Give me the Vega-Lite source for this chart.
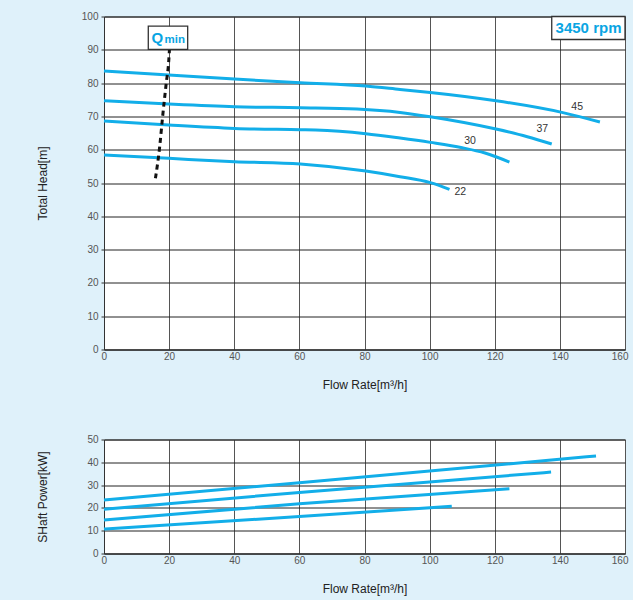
{
  "$schema": "https://vega.github.io/schema/vega-lite/v6.json",
  "background": "#dff1fa",
  "padding": {"left": 36, "top": 10.5, "right": 12, "bottom": 14},
  "spacing": 90,
  "bounds": "flush",
  "config": {
    "view": {"stroke": "#444", "strokeWidth": 1, "fill": "white"},
    "font": "Liberation Sans",
    "axis": {
      "labelFont": "Liberation Sans", "labelFontSize": 10, "labelColor": "#555",
      "titleFont": "Liberation Sans", "titleFontSize": 12, "titleFontWeight": "normal", "titleColor": "#222",
      "gridOpacity": 1, "gridWidth": 1, "domainColor": "#333", "tickColor": "#333"
    },
    "axisX": {"gridColor": "#555", "tickSize": 0, "labelPadding": 2, "titleY": 34.5, "titleBaseline": "middle", "labelFlush": true, "labelFlushOffset": 3},
    "axisY": {"gridColor": "#222", "tickSize": 3, "labelPadding": 3, "titleX": -61.5, "titleBaseline": "middle", "labelFlush": false}
  },
  "datasets": {
    "head": [
      {"curve": "45", "x": 0, "y": 83.6}, {"curve": "45", "x": 19.9, "y": 82.4}, {"curve": "45", "x": 40.1, "y": 81.2}, {"curve": "45", "x": 60.3, "y": 80.1}, {"curve": "45", "x": 80.4, "y": 79.1}, {"curve": "45", "x": 90.9, "y": 78.1}, {"curve": "45", "x": 100.2, "y": 77.2}, {"curve": "45", "x": 120.4, "y": 74.7}, {"curve": "45", "x": 140.6, "y": 71.2}, {"curve": "45", "x": 152.3, "y": 68.3},
      {"curve": "37", "x": 0, "y": 74.7}, {"curve": "37", "x": 19.9, "y": 73.7}, {"curve": "37", "x": 40.1, "y": 72.9}, {"curve": "37", "x": 60.3, "y": 72.6}, {"curve": "37", "x": 77.7, "y": 72.2}, {"curve": "37", "x": 90.9, "y": 71.2}, {"curve": "37", "x": 100.2, "y": 69.9}, {"curve": "37", "x": 120.4, "y": 66.2}, {"curve": "37", "x": 130, "y": 63.9}, {"curve": "37", "x": 137.5, "y": 61.7},
      {"curve": "30", "x": 0, "y": 68.6}, {"curve": "30", "x": 19.9, "y": 67.4}, {"curve": "30", "x": 40.1, "y": 66.4}, {"curve": "30", "x": 60.3, "y": 66.0}, {"curve": "30", "x": 65, "y": 65.9}, {"curve": "30", "x": 80.4, "y": 64.8}, {"curve": "30", "x": 90.9, "y": 63.5}, {"curve": "30", "x": 100.2, "y": 62.2}, {"curve": "30", "x": 110, "y": 60.6}, {"curve": "30", "x": 117, "y": 59.0}, {"curve": "30", "x": 124.5, "y": 56.3},
      {"curve": "22", "x": 0, "y": 58.4}, {"curve": "22", "x": 19.9, "y": 57.4}, {"curve": "22", "x": 40.1, "y": 56.4}, {"curve": "22", "x": 60.3, "y": 55.7}, {"curve": "22", "x": 80.4, "y": 53.6}, {"curve": "22", "x": 90.9, "y": 51.9}, {"curve": "22", "x": 100.2, "y": 50.1}, {"curve": "22", "x": 106.1, "y": 48.1}
    ],
    "labels": [
      {"label": "45", "x": 145.3, "y": 72.9},
      {"label": "37", "x": 134.6, "y": 66.1},
      {"label": "30", "x": 112.4, "y": 62.6},
      {"label": "22", "x": 109.4, "y": 47.2}
    ],
    "qmin": [
      {"x": 20.1, "y": 90.1}, {"x": 19.9, "y": 86.9}, {"x": 19.1, "y": 79.9}, {"x": 18.0, "y": 69.9}, {"x": 17.1, "y": 60.9}, {"x": 15.8, "y": 51.4}
    ],
    "qbox": [{"x": 13.6, "x2": 25.7, "y": 90.1, "y2": 97.1}],
    "qtext": [{"t": "Q", "x": 14.6, "y": 92.1, "s": "big"}, {"t": "min", "x": 18.6, "y": 92.1, "s": "small"}],
    "rpmbox": [{"x": 137.5, "x2": 160, "y": 93.1, "y2": 100, "t": "3450 rpm", "tx": 148.8, "ty": 95.0}],
    "power": [
      {"curve": "45", "x": 0, "y": 23.5}, {"curve": "45", "x": 60, "y": 31.0}, {"curve": "45", "x": 151.1, "y": 42.8},
      {"curve": "37", "x": 0, "y": 19.4}, {"curve": "37", "x": 60, "y": 26.8}, {"curve": "37", "x": 137.3, "y": 35.7},
      {"curve": "30", "x": 0, "y": 14.7}, {"curve": "30", "x": 60, "y": 21.8}, {"curve": "30", "x": 124.5, "y": 28.4},
      {"curve": "22", "x": 0, "y": 10.7}, {"curve": "22", "x": 60, "y": 16.2}, {"curve": "22", "x": 106.8, "y": 20.7}
    ]
  },
  "vconcat": [
    {
      "width": 521,
      "height": 333,
      "encoding": {
        "x": {"field": "x", "type": "quantitative", "scale": {"domain": [0, 160], "nice": false, "zero": false},
              "axis": {"title": "Flow Rate[m³/h]", "values": [0, 20, 40, 60, 80, 100, 120, 140, 160]}},
        "y": {"field": "y", "type": "quantitative", "scale": {"domain": [0, 100], "nice": false, "zero": false},
              "axis": {"title": "Total Head[m]", "values": [0, 10, 20, 30, 40, 50, 60, 70, 80, 90, 100]}}
      },
      "layer": [
        {
          "data": {"name": "head"},
          "mark": {"type": "line", "interpolate": "monotone", "color": "#12aee9", "strokeWidth": 3, "clip": false},
          "encoding": {"detail": {"field": "curve", "type": "nominal"}}
        },
        {
          "data": {"name": "labels"},
          "mark": {"type": "text", "fontSize": 10.5, "color": "#333", "font": "Liberation Sans"},
          "encoding": {"text": {"field": "label", "type": "nominal"}}
        },
        {
          "data": {"name": "qmin"},
          "mark": {"type": "line", "interpolate": "monotone", "color": "#111", "strokeWidth": 3, "strokeDash": [5, 4]},
          "encoding": {}
        },
        {
          "data": {"name": "qbox"},
          "mark": {"type": "rect", "fill": "white", "stroke": "#333", "strokeWidth": 1.3},
          "encoding": {"x2": {"field": "x2"}, "y2": {"field": "y2"}}
        },
        {
          "data": {"name": "qtext"},
          "transform": [{"filter": "datum.s === 'big'"}],
          "mark": {"type": "text", "align": "left", "baseline": "alphabetic", "fontSize": 15, "fontWeight": "bold", "color": "#09a5e3", "font": "Liberation Sans"},
          "encoding": {"text": {"field": "t", "type": "nominal"}}
        },
        {
          "data": {"name": "qtext"},
          "transform": [{"filter": "datum.s === 'small'"}],
          "mark": {"type": "text", "align": "left", "baseline": "alphabetic", "fontSize": 11.5, "fontWeight": "bold", "color": "#09a5e3", "font": "Liberation Sans"},
          "encoding": {"text": {"field": "t", "type": "nominal"}}
        },
        {
          "data": {"name": "rpmbox"},
          "mark": {"type": "rect", "fill": "white", "stroke": "#333", "strokeWidth": 1.3},
          "encoding": {"x2": {"field": "x2"}, "y2": {"field": "y2"}}
        },
        {
          "data": {"name": "rpmbox"},
          "mark": {"type": "text", "align": "center", "baseline": "alphabetic", "fontSize": 15, "fontWeight": "bold", "color": "#09a5e3", "font": "Liberation Sans"},
          "encoding": {
            "x": {"field": "tx", "type": "quantitative"},
            "y": {"field": "ty", "type": "quantitative"},
            "text": {"field": "t", "type": "nominal"}
          }
        }
      ]
    },
    {
      "width": 521,
      "height": 114,
      "data": {"name": "power"},
      "mark": {"type": "line", "interpolate": "monotone", "color": "#12aee9", "strokeWidth": 3},
      "encoding": {
        "x": {"field": "x", "type": "quantitative", "scale": {"domain": [0, 160], "nice": false, "zero": false},
              "axis": {"title": "Flow Rate[m³/h]", "values": [0, 20, 40, 60, 80, 100, 120, 140, 160]}},
        "y": {"field": "y", "type": "quantitative", "scale": {"domain": [0, 50], "nice": false, "zero": false},
              "axis": {"title": "SHaft Power[kW]", "values": [0, 10, 20, 30, 40, 50]}},
        "detail": {"field": "curve", "type": "nominal"}
      }
    }
  ]
}
